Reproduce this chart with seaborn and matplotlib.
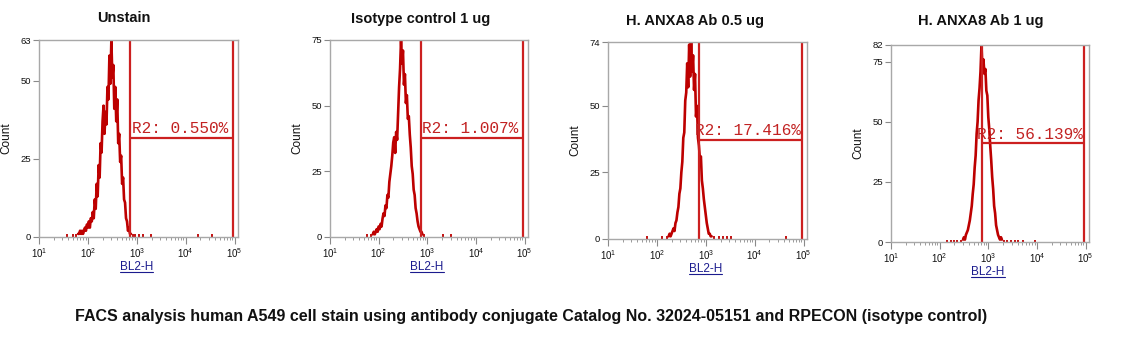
import numpy as np
import pandas as pd
import matplotlib
matplotlib.use("Agg")
import matplotlib.pyplot as plt
import seaborn as sns
from matplotlib import font_manager
from matplotlib.lines import Line2D
from matplotlib.ticker import LogLocator, NullFormatter

# ---------------------------------------------------------------- data
titles = ["Unstain", "Isotype control 1 ug", "H. ANXA8 Ab 0.5 ug", "H. ANXA8 Ab 1 ug"]
gate_labels = ["R2: 0.550%", "R2: 1.007%", "R2: 17.416%", "R2: 56.139%"]
y_top = [63, 75, 74, 82]
y_ticks = [[0, 25, 50, 63], [0, 25, 50, 75], [0, 25, 50, 74], [0, 25, 50, 75, 82]]

# histogram channels: log10(BL2-H) on a 0.02-decade grid
channel_step = 0.02
channel_lo, channel_hi = 1.00, 5.10

# first populated channel of each histogram, then counts per channel
core_start = [1.76, 1.84, 2.20, 2.44]
counts_unstain = [1, 0, 1, 1, 2, 1, 2, 1, 2, 3, 2, 4, 3, 5, 3, 6, 5, 8, 6, 12,
                  9, 17, 13, 23, 19, 30, 27, 37, 42, 33, 40, 36, 48, 44, 58, 49, 63, 51, 55, 41,
                  48, 37, 44, 30, 33, 24, 26, 17, 19, 12, 11, 6, 5, 2, 3, 1, 1]
counts_isotype = [1, 0, 1, 2, 1, 2, 3, 2, 4, 3, 5, 4, 7, 9, 8, 12, 11, 16, 15, 21,
                  24, 27, 31, 36, 38, 32, 40, 37, 47, 57, 64, 75, 66, 71, 58, 62, 51, 54, 45, 46,
                  39, 34, 27, 24, 18, 16, 11, 9, 6, 4, 3, 2, 2, 1, 0, 1]
counts_ab_half = [1, 0, 1, 2, 1, 2, 3, 4, 3, 6, 7, 10, 12, 17, 19, 25, 29, 38, 40, 52,
                  55, 66, 57, 73, 61, 74, 63, 69, 56, 62, 46, 50, 38, 35, 30, 31, 22, 19, 15, 12,
                  9, 6, 4, 2, 2, 1, 1, 0, 1]
counts_ab_one = [1, 0, 1, 2, 1, 3, 4, 5, 7, 9, 12, 15, 20, 24, 31, 36, 45, 50, 59, 64,
                 71, 82, 72, 76, 70, 72, 63, 61, 52, 47, 40, 34, 27, 22, 15, 12, 7, 5, 3, 2,
                 1, 2, 1, 0, 1]
core_counts = [counts_unstain, counts_isotype, counts_ab_half, counts_ab_one]

# isolated single events outside the main peak (log10 channel)
stray_unstain = [1.58, 1.70, 2.92, 2.96, 3.04, 3.12, 3.30, 4.26, 4.54]
stray_isotype = [1.76, 3.32, 3.48]
stray_ab_half = [1.80, 2.10, 3.28, 3.36, 3.44, 3.52, 4.64]
stray_ab_one = [2.16, 2.24, 2.30, 2.36, 3.38, 3.46, 3.54, 3.62, 3.72, 3.96]
stray_events = [stray_unstain, stray_isotype, stray_ab_half, stray_ab_one]

# R2 marker region (BL2-H units) and height of its bar (counts)
gate_lo, gate_hi = 740, 93000
gate_level = [31.7, 37.7, 37.2, 41.2]

caption = ("FACS analysis human A549 cell stain using antibody conjugate "
           "Catalog No. 32024-05151 and RPECON (isotype control)")

# ---------------------------------------------------------------- layout
W, H = 1127, 348
axes_px = [(39, 40, 238, 237), (330, 40, 528, 237),
           (608, 42, 807, 239), (891, 45, 1089, 242)]      # left, top, right, bottom
title_px = [(123.5, 18.5), (420.5, 19.5), (695.5, 20.5), (981, 21.5)]

HIST_RED = "#bd0000"
GATE_RED = "#cc2020"
TEXT_RED = "#c22222"
FRAME = "#a8a8a8"
LINK_BLUE = "#1b1b8e"

sns.set_theme(style="white")
plt.rcParams["font.family"] = ["Liberation Sans", "DejaVu Sans"]
plt.rcParams["mathtext.default"] = "regular"


def has_font(name):
    try:
        font_manager.findfont(font_manager.FontProperties(family=name),
                              fallback_to_default=False)
        return True
    except Exception:
        return False


narrow = "Liberation Sans Narrow" if has_font("Liberation Sans Narrow") else "Liberation Sans"

channels = np.round(np.arange(channel_lo, channel_hi + 1e-9, channel_step), 2)


def build_histogram(start, counts, strays):
    """Counts on the channel grid, split into runs of occupied channels."""
    values = np.zeros(len(channels))
    i0 = int(round((start - channel_lo) / channel_step))
    values[i0:i0 + len(counts)] = counts
    for s in strays:
        values[int(round((s - channel_lo) / channel_step))] = 1
    occupied = values > 0
    run_id = np.cumsum(occupied & ~np.r_[False, occupied[:-1]])
    df = pd.DataFrame({"BL2-H": 10 ** channels, "Count": values, "run": run_id})
    df = df[occupied]
    run_len = df.groupby("run")["Count"].transform("size")
    return df[run_len > 1], df[run_len == 1]


fig = plt.figure(figsize=(W / 100, H / 100), dpi=100)
axes = []
for k in range(4):
    l, t, r, b = axes_px[k]
    ax = fig.add_axes([l / W, 1 - b / H, (r - l) / W, (b - t) / H])
    axes.append(ax)

    runs, singles = build_histogram(core_start[k], core_counts[k], stray_events[k])
    sns.lineplot(data=runs, x="BL2-H", y="Count", units="run", ax=ax,
                 color=HIST_RED, linewidth=1.9, estimator=None, sort=False, zorder=2)
    ax.vlines(singles["BL2-H"], 0, singles["Count"], color=HIST_RED,
              linewidth=1.3, zorder=2)

    ax.set_xscale("log")
    ax.set_xlim(10, 10 ** 5.07)
    ax.set_ylim(0, y_top[k])

    # gate markers
    ax.axvline(gate_lo, color=GATE_RED, linewidth=1.6, zorder=2.2)
    ax.axvline(gate_hi, color=GATE_RED, linewidth=1.6, zorder=2.2)
    ax.hlines(gate_level[k], gate_lo, gate_hi, color=GATE_RED, linewidth=1.6, zorder=2.2)

    # axes styling
    ax.set_xticks([10, 100, 1000, 10000, 100000])
    ax.set_xticklabels([r"$10^{%d}$" % e for e in range(1, 6)])
    ax.xaxis.set_minor_locator(LogLocator(base=10, subs=range(2, 10), numticks=20))
    ax.xaxis.set_minor_formatter(NullFormatter())
    ax.set_yticks(y_ticks[k])
    ax.set_yticklabels([str(v) for v in y_ticks[k]])
    ax.tick_params(axis="x", which="major", bottom=True, length=5, width=0.8,
                   color="#8a8a8a", labelsize=7, pad=1.5, labelcolor="#111111")
    ax.tick_params(axis="x", which="minor", bottom=True, length=2.5, width=0.6,
                   color="#8a8a8a")
    ax.tick_params(axis="y", which="major", left=True, length=4, width=0.8,
                   color="#8a8a8a", labelsize=6.8, pad=1.5, labelcolor="#111111")
    for sp in ax.spines.values():
        sp.set_color(FRAME)
        sp.set_linewidth(1.0)
        sp.set_zorder(3)

    ax.set_ylabel("Count", fontsize=8.5, color="#111111")
    ax.yaxis.label.set_va("center")
    ax.yaxis.set_label_coords(-33 / (r - l), 0.5)
    ax.set_xlabel("BL2-H", fontsize=8.5, color=LINK_BLUE)
    ax.xaxis.set_label_coords(0.49, -24 / (b - t))

    ax.annotate(gate_labels[k], xy=(gate_lo, gate_level[k]), xytext=(1.5, 4.5),
                textcoords="offset pixels", ha="left", va="baseline",
                fontsize=11.6, family=["Liberation Mono", "DejaVu Sans Mono"],
                color=TEXT_RED, zorder=4)

    tx, ty = title_px[k]
    fig.text(tx / W, 1 - ty / H, titles[k], ha="center", va="center",
             fontsize=10.5, fontweight="bold", color="#111111")

cap = fig.text(531 / W, 1 - 316 / H, caption, ha="center", va="center",
               fontsize=13.5, fontweight="bold", family=[narrow, "DejaVu Sans"],
               color="#111111")

fig.canvas.draw()
renderer = fig.canvas.get_renderer()

# fit caption to its line width
cw = cap.get_window_extent(renderer).width
cap.set_fontsize(cap.get_fontsize() * 907 / cw)

# keep the R2 label inside its marker; underline the axis name
for k, ax in enumerate(axes):
    ann = [c for c in ax.texts][-1]
    bb = ann.get_window_extent(renderer)
    right_px = ax.transData.transform((gate_hi, 0))[0]
    if bb.x1 > right_px - 1:
        ann.xy = (gate_hi, gate_level[k])
        ann.set_ha("right")
        ann.xyann = (-1.5, 4.5)
    lb = ax.xaxis.label.get_window_extent(renderer)
    y_line = (lb.y0 + 1.0) / H
    fig.add_artist(Line2D([lb.x0 / W, lb.x1 / W], [y_line, y_line],
                          transform=fig.transFigure, color=LINK_BLUE, linewidth=0.8))

fig.savefig("out.png", dpi=100)
